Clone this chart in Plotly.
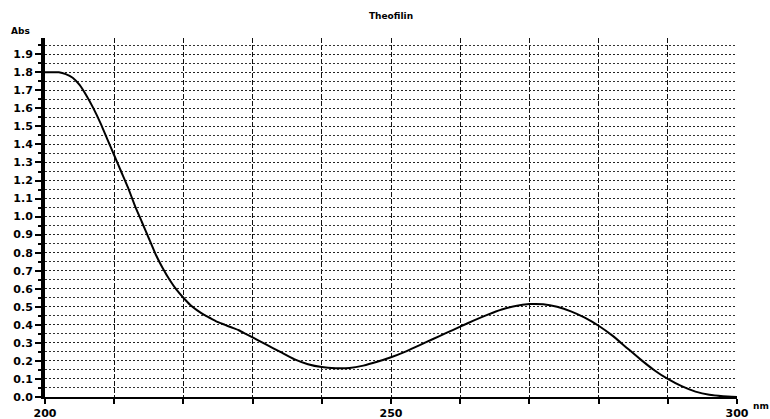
import plotly.graph_objects as go

# UV absorption spectrum of theophylline
wavelength_nm = [200, 201, 202, 203, 204, 205, 206, 207, 208, 209, 210, 211, 212, 213, 214,
                 215, 216, 217, 218, 219, 220, 221, 222, 223, 224, 225, 226, 227, 228, 229,
                 230, 232, 234, 236, 238, 240, 242, 244, 246, 248, 250, 252, 254, 256, 258,
                 260, 262, 264, 266, 268, 270, 272, 274, 276, 278, 280, 282, 284, 286, 288,
                 290, 292, 294, 296, 298, 300]
absorbance = [1.80, 1.80, 1.80, 1.79, 1.77, 1.73, 1.67, 1.60, 1.52, 1.43, 1.34, 1.25, 1.16, 1.06, 0.97,
              0.88, 0.79, 0.715, 0.65, 0.595, 0.55, 0.51, 0.48, 0.455, 0.435, 0.415, 0.40, 0.385, 0.37, 0.35,
              0.33, 0.29, 0.25, 0.21, 0.182, 0.166, 0.16, 0.161, 0.174, 0.195, 0.22, 0.25, 0.285, 0.32, 0.355,
              0.39, 0.425, 0.457, 0.485, 0.505, 0.515, 0.514, 0.50, 0.475, 0.44, 0.395, 0.34, 0.275, 0.21, 0.15,
              0.10, 0.06, 0.03, 0.012, 0.004, 0.0]

x_tick_vals = [200, 250, 300]
x_tick_text = ["200", "250", "300"]
y_tick_vals = [round(i * 0.1, 1) for i in range(20)]
y_tick_text = [f"{v:.1f}" for v in y_tick_vals]

fig = go.Figure()
fig.add_trace(go.Scatter(
    x=wavelength_nm, y=absorbance, mode="lines",
    line=dict(color="black", width=2, shape="spline", smoothing=0.5),
    hoverinfo="skip", showlegend=False,
))

label_font = dict(family="DejaVu Sans", size=11, color="black", weight="bold")
small_bold = dict(family="DejaVu Sans", size=9, color="black", weight="bold")

fig.update_layout(
    width=770, height=419, autosize=False,
    margin=dict(l=45, r=33, t=38, b=22),
    paper_bgcolor="white", plot_bgcolor="white",
    title=dict(text="Theofilin", x=391 / 770, xanchor="center", y=1 - 16 / 419, yanchor="middle",
               font=small_bold),
    xaxis=dict(
        range=[200, 300], tickmode="array", tickvals=x_tick_vals, ticktext=x_tick_text,
        tickfont=label_font, ticks="outside", ticklen=5, tickcolor="black", tickwidth=1.5,
        showgrid=True, gridcolor="#111", gridwidth=1.3, griddash="5px,2px",
        minor=dict(dtick=10, tick0=200, showgrid=True, gridcolor="#111", gridwidth=1.3,
                   griddash="5px,2px", ticks="outside", ticklen=5, tickcolor="black"),
        showline=True, linecolor="black", linewidth=1.5, zeroline=False, automargin=False,
    ),
    yaxis=dict(
        range=[0, 1.99], tickmode="array", tickvals=y_tick_vals, ticktext=y_tick_text,
        tickfont=label_font, ticks="outside", ticklen=6, tickcolor="black", tickwidth=2,
        showgrid=True, gridcolor="#222", gridwidth=1.2, griddash="2px,2px",
        minor=dict(dtick=0.05, tick0=0, showgrid=True, gridcolor="#333", gridwidth=1.1,
                   griddash="2px,2px", ticks="outside", ticklen=3, tickcolor="black"),
        showline=True, linecolor="black", linewidth=4, zeroline=False, automargin=False,
    ),
    annotations=[
        dict(text="Abs", xref="paper", yref="paper", x=-0.035, y=1.0, xanchor="center", yanchor="bottom",
             showarrow=False, font=small_bold),
        dict(text="nm", xref="paper", yref="paper", x=(751 - 45) / 692, y=-0.025, xanchor="left",
             yanchor="middle", showarrow=False, font=small_bold),
    ],
)

fig.write_html("out.html")
